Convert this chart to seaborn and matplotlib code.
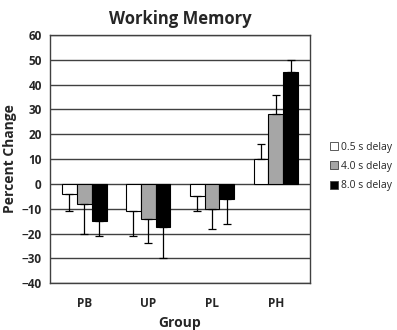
import numpy as np
import pandas as pd
import matplotlib
matplotlib.use("Agg")
import matplotlib.pyplot as plt
import seaborn as sns

groups = ["PB", "UP", "PL", "PH"]
delays = ["0.5 s delay", "4.0 s delay", "8.0 s delay"]
values_05 = [-4, -11, -5, 10]
values_40 = [-8, -14, -10, 28]
values_80 = [-15, -17.5, -6, 45]
err_05 = [7, 10, 6, 6]
err_40 = [12, 10, 8, 8]
err_80 = [6, 12.5, 10, 5]
colors = ["#ffffff", "#a6a6a6", "#000000"]

sns.set_theme(style="white")
plt.rcParams['font.family'] = ['Open Sans', 'DejaVu Sans']

rows = []
for d, vals in zip(delays, [values_05, values_40, values_80]):
    for g, v in zip(groups, vals):
        rows.append({"Group": g, "Delay": d, "Value": v})
df = pd.DataFrame(rows)

fig = plt.figure(figsize=(3.97, 3.30), dpi=100)
ax = fig.add_axes([0.126, 0.142, 0.655, 0.752])

sns.barplot(data=df, x="Group", y="Value", hue="Delay", order=groups,
            hue_order=delays, palette=colors, edgecolor="black", linewidth=0.8,
            width=0.7, errorbar=None, ax=ax, zorder=3, legend=True)

errs = [err_05, err_40, err_80]
bar_containers = list(ax.containers)
for ci, cont in enumerate(bar_containers):
    for gi, patch in enumerate(cont.patches):
        x = patch.get_x() + patch.get_width() / 2
        v = [values_05, values_40, values_80][ci][gi]
        e = errs[ci][gi]
        if v >= 0:
            yerr = [[0], [e]]
        else:
            yerr = [[e], [0]]
        ax.errorbar([x], [v], yerr=yerr, fmt="none", ecolor="black",
                    elinewidth=0.9, capsize=3, capthick=0.9, zorder=4)

ax.set_ylim(-40, 60)
ax.set_yticks(np.arange(-40, 61, 10))
ax.yaxis.grid(True, color="#404040", linewidth=1.0, zorder=0)
ax.set_axisbelow(True)
for s in ax.spines.values():
    s.set_color("#404040")
    s.set_linewidth(1.0)
ax.tick_params(axis="both", length=0, labelsize=8.5, pad=6)
for lab in ax.get_xticklabels() + ax.get_yticklabels():
    lab.set_fontweight("bold")
ax.tick_params(axis="x", pad=10)
ax.set_xlabel("Group", fontsize=10, fontweight="bold", labelpad=4)
ax.set_ylabel("Percent Change", fontsize=10, fontweight="bold", labelpad=3)
ax.set_title("Working Memory", fontsize=12, fontweight="bold", pad=8)

leg = ax.legend(loc="center left", bbox_to_anchor=(1.04, 0.47), frameon=False,
                fontsize=7.5, handlelength=0.8, handleheight=0.8, handletextpad=0.3,
                labelspacing=0.8, title=None)
for h in leg.legend_handles:
    h.set_edgecolor("#404040")
    h.set_linewidth(0.6)

fig.savefig("out.png", dpi=100)
